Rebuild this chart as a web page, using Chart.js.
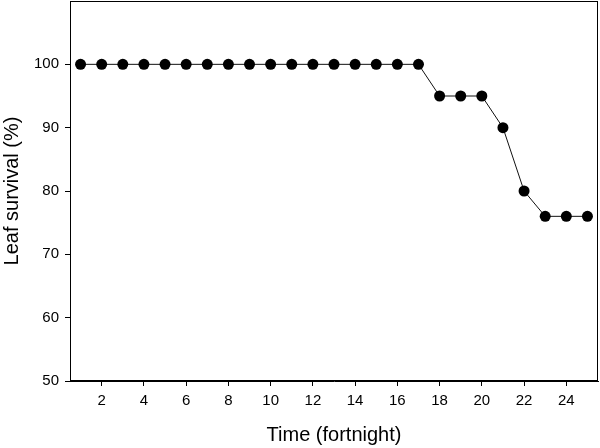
<!DOCTYPE html>
<html>
<head>
<meta charset="utf-8">
<script src="https://cdn.jsdelivr.net/npm/chart.js@4"></script>
<style>
  html, body { margin: 0; padding: 0; background: #fff; }
  #wrap { width: 600px; height: 448px; }
</style>
</head>
<body>
<div id="wrap"><canvas id="grafica"></canvas></div>
<script>
// Datos
const quincenas = [1, 2, 3, 4, 5, 6, 7, 8, 9, 10, 11, 12, 13, 14, 15, 16, 17, 18, 19, 20, 21, 22, 23, 24, 25];
const supervivencia = [100, 100, 100, 100, 100, 100, 100, 100, 100, 100, 100, 100, 100, 100, 100, 100, 100, 95, 95, 95, 90, 80, 76, 76, 76];
const ticksX = [2, 4, 6, 8, 10, 12, 14, 16, 18, 20, 22, 24];
const ticksY = [50, 60, 70, 80, 90, 100];

// Marco completo alrededor del área de la gráfica
const marco = {
    id: 'marco',
    afterDraw(chart) {
        const { ctx, chartArea } = chart;
        ctx.save();
        ctx.strokeStyle = '#000';
        ctx.lineWidth = 1;
        ctx.strokeRect(chartArea.left + 0.5, chartArea.top + 0.5,
            chartArea.right - chartArea.left - 1, chartArea.bottom - chartArea.top - 1);
        ctx.restore();
    }
};

const ctx = document.getElementById('grafica').getContext('2d');
new Chart(ctx, {
    type: 'line',
    data: {
        datasets: [{
            data: quincenas.map((t, i) => ({ x: t, y: supervivencia[i] })),
            borderColor: '#111',
            borderWidth: 1,
            backgroundColor: '#000',
            pointBackgroundColor: '#000',
            pointBorderColor: '#000',
            pointRadius: 5.5,
            pointBorderWidth: 0,
            tension: 0,
        }],
    },
    options: {
        responsive: true,
        maintainAspectRatio: false,
        animation: false,
        layout: { autoPadding: false, padding: { top: 1, right: 2, left: 0, bottom: 0 } },
        plugins: {
            legend: { display: false },
            tooltip: { enabled: false },
        },
        scales: {
            x: {
                type: 'linear',
                min: 0.5,
                max: 25.5,
                afterBuildTicks: (s) => { s.ticks = ticksX.map(v => ({ value: v })); },
                afterFit: (s) => { s.height = 67; s.paddingLeft = 0; s.paddingRight = 0; },
                grid: { drawOnChartArea: false, drawTicks: true, tickLength: 5, tickColor: '#000' },
                border: { display: true, color: '#000', width: 1 },
                ticks: {
                    color: '#000',
                    padding: 6,
                    maxRotation: 0,
                    font: { family: 'Liberation Sans', size: 15 },
                },
                title: {
                    display: true,
                    text: 'Time (fortnight)',
                    color: '#000',
                    font: { family: 'Liberation Sans', size: 20 },
                    padding: { top: 0, bottom: 1 },
                },
            },
            y: {
                min: 50,
                max: 110,
                afterBuildTicks: (s) => { s.ticks = ticksY.map(v => ({ value: v })); },
                afterFit: (s) => { s.width = 70; s.paddingTop = 0; s.paddingBottom = 0; },
                grid: { drawOnChartArea: false, drawTicks: true, tickLength: 5, tickColor: '#000' },
                border: { display: true, color: '#000', width: 1 },
                ticks: {
                    color: '#000',
                    padding: 6,
                    font: { family: 'Liberation Sans', size: 15 },
                },
                title: {
                    display: true,
                    text: 'Leaf survival (%)',
                    color: '#000',
                    font: { family: 'Liberation Sans', size: 20 },
                    padding: { top: 0, bottom: 0 },
                },
            },
        },
    },
    plugins: [marco],
});
</script>
</body>
</html>
